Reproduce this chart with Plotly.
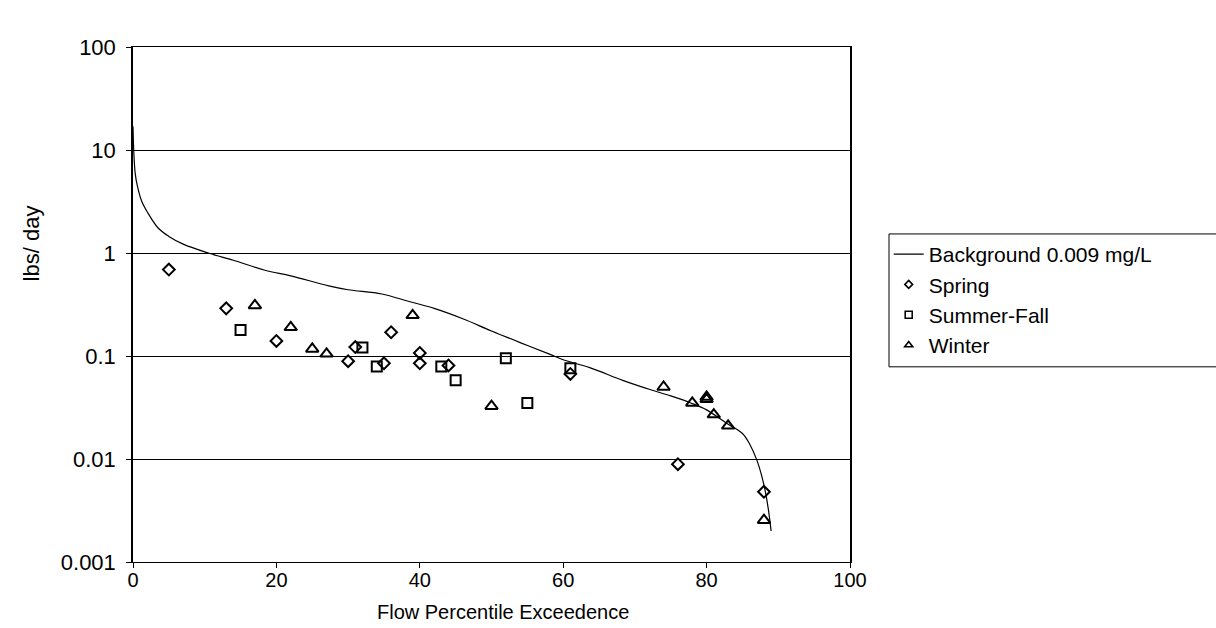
import plotly.graph_objects as go

# Background load curve (0.009 mg/L) along the flow duration curve
bg_x = [0, 0.1, 0.3, 0.6, 1.2, 2, 3.5, 5, 7, 10.5, 14, 18.4, 22, 27.3, 30, 34.7,
        38.4, 42, 46, 50, 54, 58, 60, 63.7, 68.3, 72.2, 75, 77.8, 80, 82.9, 85,
        86, 87, 87.6, 88.2, 88.6, 89]
bg_y = [17, 10, 6, 4.5, 3.2, 2.5, 1.75, 1.45, 1.22, 1.0, 0.85, 0.68, 0.6, 0.48,
        0.44, 0.40, 0.34, 0.29, 0.23, 0.175, 0.135, 0.105, 0.092, 0.077, 0.058,
        0.047, 0.041, 0.035, 0.030, 0.022, 0.0177, 0.014, 0.0098, 0.0072,
        0.0048, 0.0033, 0.002]

# Observed loads by season
spring_x = [5, 13, 20, 30, 31, 35, 36, 40, 40, 44, 61, 76, 88]
spring_y = [0.69, 0.29, 0.14, 0.089, 0.122, 0.085, 0.17, 0.107, 0.085, 0.081,
            0.067, 0.0089, 0.0048]

summer_x = [15, 32, 34, 43, 45, 52, 55, 61]
summer_y = [0.179, 0.121, 0.079, 0.079, 0.058, 0.095, 0.035, 0.076]

winter_x = [17, 22, 25, 27, 39, 50, 74, 78, 80, 80, 81, 83, 88]
winter_y = [0.31, 0.19, 0.117, 0.105, 0.248, 0.0326, 0.05, 0.035, 0.040,
            0.038, 0.027, 0.021, 0.00255]

y_ticks = [0.001, 0.01, 0.1, 1, 10, 100]
y_tick_text = ["0.001", "0.01", "0.1", "1", "10", "100"]
x_ticks = [0, 20, 40, 60, 80, 100]

FONT = "Liberation Sans, Arial, sans-serif"

fig = go.Figure()

fig.add_trace(go.Scatter(
    x=bg_x, y=bg_y, mode="lines", name="Background 0.009 mg/L",
    line=dict(color="black", width=1.2), line_shape="spline",
))

series = [
    ("Spring", spring_x, spring_y, "diamond-open", 9, 6),
    ("Summer-Fall", summer_x, summer_y, "square-open", 10, 7),
    ("Winter", winter_x, winter_y, "triangle-up-open", 11, 7),
]
for name, xs, ys, sym, size, legend_size in series:
    fig.add_trace(go.Scatter(
        x=xs, y=ys, mode="markers", name=name, showlegend=False,
        marker=dict(symbol=sym, size=size, color="black",
                    line=dict(color="black", width=2)),
    ))
    # smaller marker sample for the legend
    fig.add_trace(go.Scatter(
        x=[None], y=[None], mode="markers", name=name,
        marker=dict(symbol=sym, size=legend_size, color="black",
                    line=dict(color="black", width=1.6)),
    ))

fig.update_layout(
    width=1216, height=628,
    margin=dict(l=133, r=366, t=47, b=66),
    paper_bgcolor="white", plot_bgcolor="white",
    font=dict(family=FONT, size=20, color="black"),
    showlegend=True,
    legend=dict(
        x=1.054, y=0.637, xanchor="left", yanchor="top",
        borderwidth=0, bgcolor="rgba(0,0,0,0)",
        font=dict(family=FONT, size=21, color="black"),
        tracegroupgap=0, itemwidth=30,
    ),
    # legend frame running out to the right edge of the page
    shapes=[
        dict(type="rect", xref="paper", yref="paper",
             x0=1.0544, x1=1.52, y0=0.379, y1=0.637,
             line=dict(color="black", width=1), fillcolor="white",
             layer="below"),
    ],
    annotations=[
        dict(text="Flow Percentile Exceedence", xref="paper", yref="paper",
             x=0.516, y=-0.097, xanchor="center", yanchor="middle",
             showarrow=False, font=dict(family=FONT, size=20)),
        dict(text="lbs/ day", xref="paper", yref="paper",
             x=-0.142, y=0.619, xanchor="center", yanchor="middle",
             textangle=-90, showarrow=False, font=dict(family=FONT, size=22)),
    ],
)

fig.update_xaxes(
    range=[0, 100], tickvals=x_ticks, ticks="outside", ticklen=5,
    tickcolor="black", showline=True, linecolor="black", linewidth=1,
    mirror=True, showgrid=False, zeroline=False,
    tickfont=dict(family=FONT, size=20), ticklabelstandoff=-5,
)
fig.update_yaxes(
    type="log", range=[-3, 2], tickvals=y_ticks, ticktext=y_tick_text,
    ticks="outside", ticklen=5, tickcolor="black", showline=True,
    linecolor="black", linewidth=1.5, mirror=True,
    showgrid=True, gridcolor="black", gridwidth=1, zeroline=False,
    tickfont=dict(family=FONT, size=22), ticklabelstandoff=6,
)

fig.write_html("out.html")
